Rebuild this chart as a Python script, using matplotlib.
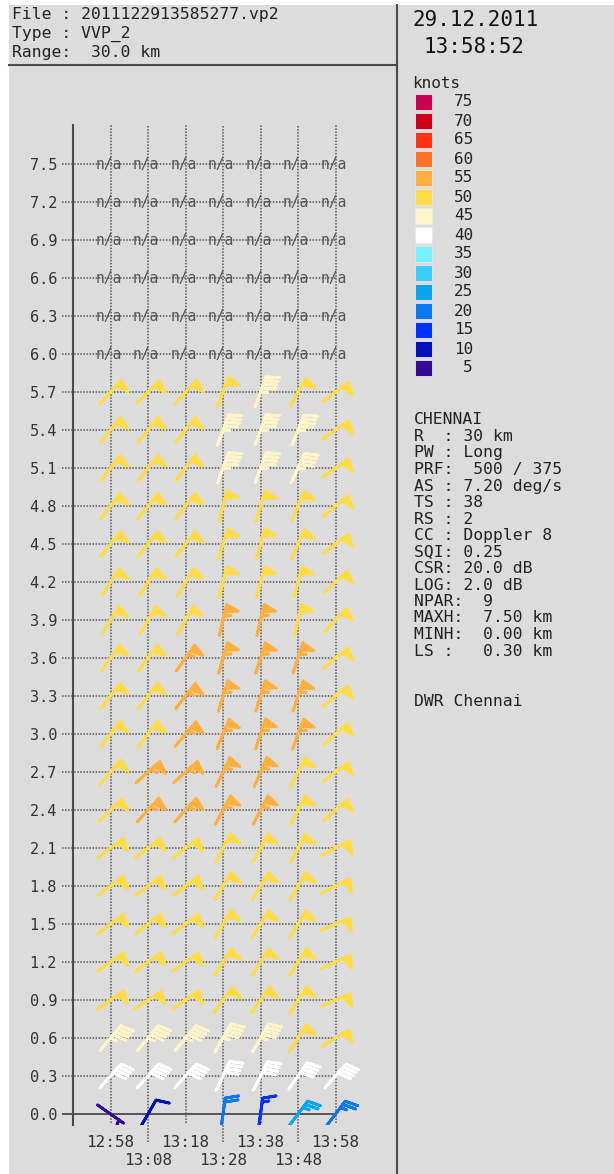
import numpy as np
import matplotlib
matplotlib.use("Agg")
import matplotlib.pyplot as plt
from matplotlib.colors import ListedColormap, BoundaryNorm
from matplotlib.patches import Rectangle

plt.rcParams['font.family'] = 'DejaVu Sans Mono'

# VVP scan times and height levels (km)
times = ['12:58', '13:08', '13:18', '13:28', '13:38', '13:48', '13:58']
heights = [0.0, 0.3, 0.6, 0.9, 1.2, 1.5, 1.8, 2.1, 2.4, 2.7,
           3.0, 3.3, 3.6, 3.9, 4.2, 4.5, 4.8, 5.1, 5.4, 5.7]
na_heights = [6.0, 6.3, 6.6, 6.9, 7.2, 7.5]

# wind speed (knots), one row per height, bottom to top
speed = [
    [5, 10, np.nan, 20, 16, 27, 23],
    [41, 41, 41, 41, 41, 41, 41],
    [46, 46, 46, 46, 46, 51, 51],
    [51, 51, 51, 51, 51, 51, 51],
    [51, 51, 51, 51, 51, 51, 51],
    [51, 51, 51, 51, 51, 51, 51],
    [51, 51, 51, 51, 51, 51, 51],
    [51, 51, 51, 51, 51, 51, 51],
    [51, 56, 56, 56, 56, 51, 51],
    [51, 56, 56, 56, 56, 51, 51],
    [51, 51, 56, 56, 56, 56, 51],
    [51, 51, 56, 56, 56, 56, 51],
    [51, 51, 56, 56, 56, 56, 51],
    [51, 51, 51, 56, 56, 51, 51],
    [51, 51, 51, 51, 51, 51, 51],
    [51, 51, 51, 51, 51, 51, 51],
    [51, 51, 51, 51, 51, 51, 51],
    [51, 51, 51, 46, 46, 46, 51],
    [51, 51, 51, 46, 46, 46, 51],
    [51, 51, 51, 51, 46, 51, 51],
]

# wind direction (degrees, where the wind blows from)
direction = [
    [125, 30, np.nan, 8, 8, 37, 37],
    [42, 42, 42, 25, 27, 35, 42],
    [40, 40, 40, 30, 30, 32, 58],
    [54, 56, 54, 36, 35, 32, 66],
    [54, 54, 54, 33, 32, 32, 65],
    [52, 52, 52, 31, 32, 32, 66],
    [52, 52, 52, 31, 30, 30, 63],
    [52, 52, 52, 27, 28, 28, 62],
    [45, 42, 42, 28, 27, 27, 47],
    [40, 48, 48, 25, 23, 27, 52],
    [37, 37, 40, 22, 18, 20, 47],
    [37, 37, 38, 17, 17, 18, 50],
    [35, 37, 35, 16, 17, 18, 50],
    [31, 30, 28, 13, 13, 13, 43],
    [32, 32, 30, 15, 15, 15, 45],
    [38, 38, 38, 18, 15, 24, 52],
    [38, 38, 38, 14, 17, 22, 50],
    [37, 37, 37, 20, 20, 25, 55],
    [38, 38, 38, 20, 20, 22, 55],
    [42, 45, 42, 20, 20, 29, 53],
]

# colour scale (knots)
legend_levels = [5, 10, 15, 20, 25, 30, 35, 40, 45, 50, 55, 60, 65, 70, 75]
legend_colors = ['#320a96', '#000fbe', '#0032ff', '#0a78f0', '#0aa5f0',
                 '#3ccdfa', '#78f0ff', '#ffffff', '#fff5c8', '#ffdc46',
                 '#ffaf3c', '#ff7328', '#ff3214', '#cc0014', '#cc0050']

header = ['File : 2011122913585277.vp2', 'Type : VVP_2', 'Range:  30.0 km']
date_text = ['29.12.2011', '13:58:52']
info = ['CHENNAI', 'R  : 30 km', 'PW : Long', 'PRF:  500 / 375',
        'AS : 7.20 deg/s', 'TS : 38', 'RS : 2', 'CC : Doppler 8',
        'SQI: 0.25', 'CSR: 20.0 dB', 'LOG: 2.0 dB', 'NPAR:  9',
        'MAXH:  7.50 km', 'MINH:  0.00 km', 'LS :   0.30 km']
footer = 'DWR Chennai'

W, H = 614, 1174
fig = plt.figure(figsize=(W / 100, H / 100), dpi=100)
fig.patch.set_facecolor('white')

# background / panel layer in pixel coordinates
bg = fig.add_axes([0, 0, 1, 1], zorder=0)
bg.set_xlim(0, W)
bg.set_ylim(H, 0)
bg.axis('off')
bg.add_patch(Rectangle((9, 5), W - 9, H - 5, color='#dcdcdc', lw=0))
bg.plot([397, 397], [5, H], color='#4a4a4a', lw=1.5)
bg.plot([9, 397], [65, 65], color='#4a4a4a', lw=1.5)

for i, line in enumerate(header):
    bg.text(12, 15 + 19 * i, line, fontsize=11.8, color='#222222', va='center')
bg.text(476, 20, date_text[0], fontsize=15, color='#111111', ha='center', va='center')
bg.text(474, 47, date_text[1], fontsize=15, color='#111111', ha='center', va='center')

bg.text(412, 84, 'knots', fontsize=11.5, color='#222222', va='center')
for i, (lev, col) in enumerate(zip(legend_levels[::-1], legend_colors[::-1])):
    yc = 102 + 19 * i
    bg.add_patch(Rectangle((415, yc - 8), 17, 16, facecolor=col,
                           edgecolor='#e8e8e8', lw=0.6))
    bg.text(473, yc, str(lev), fontsize=11.5, color='#222222', ha='right', va='center')

for i, line in enumerate(info):
    bg.text(414, 420 + 16.5 * i, line, fontsize=11.8, color='#222222', va='center')
bg.text(414, 702, footer, fontsize=11.8, color='#222222', va='center')

# main profile axes
t0 = 12 * 60 + 48
xpos = [int(t[:2]) * 60 + int(t[3:]) - t0 for t in times]
ax = fig.add_axes([73 / W, 1 - 1125 / H, (360 - 73) / W, (1125 - 125) / H], zorder=1)
ax.set_facecolor('none')
ax.set_xlim(0, 76.53)
ax.set_ylim(-0.0868, 7.808)
for s in ['top', 'right', 'bottom']:
    ax.spines[s].set_visible(False)
ax.spines['left'].set_color('#4a4a4a')
ax.spines['left'].set_linewidth(1.5)

all_heights = heights + na_heights
grid_kw = dict(color='#555555', lw=1.1, linestyle=(0, (1, 1)), clip_on=False, zorder=1)
ax.hlines(all_heights[1:], -2.93, xpos[-1], **grid_kw)
ax.hlines(all_heights[0], -2.93, xpos[-1], color='#4a4a4a', lw=1.3, clip_on=False, zorder=1)
for i, x in enumerate(xpos):
    ax.vlines(x, -0.071 if i % 2 == 0 else -0.221, 7.808, **grid_kw)

ax.set_yticks(all_heights)
ax.set_yticklabels(['%.1f' % h for h in all_heights])
# staggered time labels: even scans on the first row, odd scans below
ax.set_xticks(xpos[0::2])
ax.set_xticklabels(times[0::2])
ax.set_xticks(xpos[1::2], minor=True)
ax.set_xticklabels(times[1::2], minor=True)
ax.tick_params(axis='y', length=0, pad=11.5, labelsize=11, labelcolor='#333333')
ax.tick_params(axis='x', which='major', length=0, pad=7, labelsize=11.5, labelcolor='#333333')
ax.tick_params(axis='x', which='minor', length=0, pad=20.5, labelsize=11.5, labelcolor='#333333')

for h in na_heights:
    for x in xpos:
        ax.text(x - 0.6, h, 'n/a', fontsize=10.5, color='#555555', ha='center', va='center', zorder=2)

# wind barbs
X, Y = np.meshgrid(xpos, heights)
spd = np.array(speed, dtype=float)
dr = np.radians(np.array(direction, dtype=float))
U = -spd * np.sin(dr)
V = -spd * np.cos(dr)
ok = ~np.isnan(spd)
cmap = ListedColormap(legend_colors)
norm = BoundaryNorm(legend_levels + [80], cmap.N)
ax.barbs(X[ok], Y[ok], U[ok], V[ok], spd[ok], cmap=cmap, norm=norm,
         pivot='middle', length=6.8, linewidth=2.0, zorder=3)

fig.savefig('out.png', dpi=100)
